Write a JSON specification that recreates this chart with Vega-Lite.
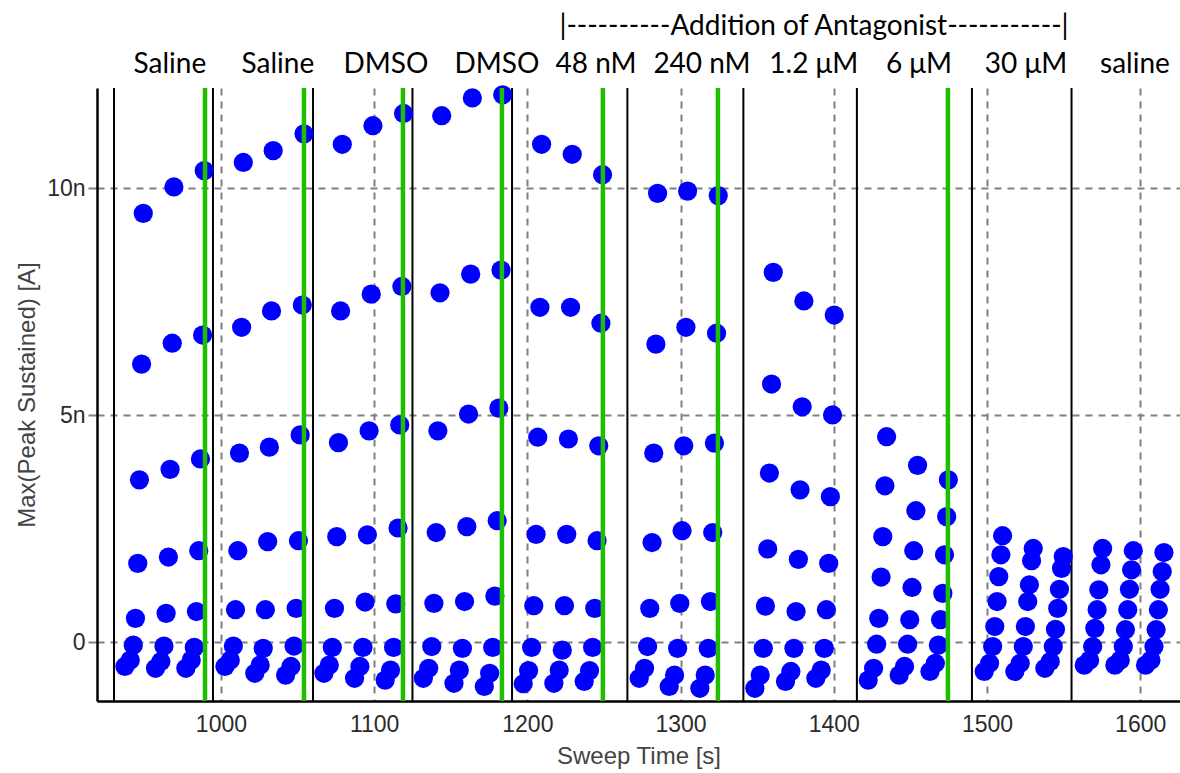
{
  "$schema": "https://vega.github.io/schema/vega-lite/v6.json",
  "width": 1083,
  "height": 613,
  "autosize": {"type": "none"},
  "padding": {"left": 97, "top": 88, "right": 0, "bottom": 72},
  "background": "white",
  "config": {
    "view": {"stroke": null},
    "axis": {
      "labelFont": "Liberation Sans",
      "labelFontSize": 23,
      "labelColor": "#2b2b2b",
      "titleFont": "Liberation Sans",
      "titleFontSize": 24,
      "titleFontWeight": "normal",
      "titleColor": "#444444",
      "domainColor": "#000000",
      "domainWidth": 2.5,
      "gridColor": "#808080",
      "gridDash": [7, 6],
      "gridWidth": 2,
      "gridOpacity": 1
    },
    "axisX": {"ticks": false, "tickSize": 0, "labelPadding": 12, "titlePadding": 8},
    "axisY": {"tickColor": "#808080", "tickSize": 9, "tickWidth": 2, "labelPadding": 3, "titlePadding": 7}
  },
  "datasets": {
    "dots": [
      {"t":949.3,"v":9.45},{"t":948.2,"v":6.13},{"t":946.8,"v":3.58},{"t":945.7,"v":1.74},{"t":944.2,"v":0.53},{"t":942.8,"v":-0.06},{"t":940.8,"v":-0.39},{"t":937.3,"v":-0.53},
      {"t":969.3,"v":10.03},{"t":968.2,"v":6.59},{"t":966.8,"v":3.81},{"t":965.7,"v":1.88},{"t":964.2,"v":0.64},{"t":962.8,"v":-0.08},{"t":960.8,"v":-0.42},{"t":957.3,"v":-0.57},
      {"t":989.1,"v":10.39},{"t":988.0,"v":6.77},{"t":986.6,"v":4.04},{"t":985.5,"v":2.02},{"t":984.0,"v":0.68},{"t":982.6,"v":-0.11},{"t":980.6,"v":-0.39},{"t":977.1,"v":-0.57},
      {"t":1014.6,"v":10.57},{"t":1013.5,"v":6.94},{"t":1012.1,"v":4.17},{"t":1011.0,"v":2.02},{"t":1009.5,"v":0.72},{"t":1008.1,"v":-0.08},{"t":1006.1,"v":-0.39},{"t":1002.6,"v":-0.53},
      {"t":1034.1,"v":10.83},{"t":1033.0,"v":7.30},{"t":1031.6,"v":4.30},{"t":1030.5,"v":2.22},{"t":1029.0,"v":0.72},{"t":1027.6,"v":-0.13},{"t":1025.6,"v":-0.50},{"t":1022.1,"v":-0.68},
      {"t":1054.2,"v":11.20},{"t":1053.1,"v":7.43},{"t":1051.7,"v":4.57},{"t":1050.6,"v":2.24},{"t":1049.1,"v":0.75},{"t":1047.7,"v":-0.08},{"t":1045.7,"v":-0.53},{"t":1042.2,"v":-0.72},
      {"t":1079.2,"v":10.97},{"t":1078.1,"v":7.30},{"t":1076.7,"v":4.40},{"t":1075.6,"v":2.33},{"t":1074.1,"v":0.75},{"t":1072.7,"v":-0.11},{"t":1070.7,"v":-0.50},{"t":1067.2,"v":-0.68},
      {"t":1099.2,"v":11.38},{"t":1098.1,"v":7.67},{"t":1096.7,"v":4.66},{"t":1095.6,"v":2.37},{"t":1094.1,"v":0.89},{"t":1092.7,"v":-0.11},{"t":1090.7,"v":-0.53},{"t":1087.2,"v":-0.79},
      {"t":1119.2,"v":11.65},{"t":1118.1,"v":7.84},{"t":1116.7,"v":4.79},{"t":1115.6,"v":2.52},{"t":1114.1,"v":0.85},{"t":1112.7,"v":-0.11},{"t":1110.7,"v":-0.61},{"t":1107.2,"v":-0.83},
      {"t":1144.1,"v":11.60},{"t":1143.0,"v":7.70},{"t":1141.6,"v":4.66},{"t":1140.5,"v":2.42},{"t":1139.0,"v":0.86},{"t":1137.6,"v":-0.09},{"t":1135.6,"v":-0.57},{"t":1132.1,"v":-0.79},
      {"t":1164.1,"v":11.99},{"t":1163.0,"v":8.11},{"t":1161.6,"v":5.03},{"t":1160.5,"v":2.55},{"t":1159.0,"v":0.90},{"t":1157.6,"v":-0.13},{"t":1155.6,"v":-0.61},{"t":1152.1,"v":-0.90},
      {"t":1183.9,"v":12.06},{"t":1182.8,"v":8.20},{"t":1181.4,"v":5.16},{"t":1180.3,"v":2.68},{"t":1178.8,"v":1.02},{"t":1177.4,"v":-0.11},{"t":1175.4,"v":-0.68},{"t":1171.9,"v":-0.97},
      {"t":1209.3,"v":10.97},{"t":1208.2,"v":7.38},{"t":1206.8,"v":4.52},{"t":1205.7,"v":2.38},{"t":1204.2,"v":0.81},{"t":1202.8,"v":-0.11},{"t":1200.8,"v":-0.62},{"t":1197.3,"v":-0.91},
      {"t":1229.3,"v":10.75},{"t":1228.2,"v":7.38},{"t":1226.8,"v":4.48},{"t":1225.7,"v":2.38},{"t":1224.2,"v":0.81},{"t":1222.8,"v":-0.17},{"t":1220.8,"v":-0.61},{"t":1217.3,"v":-0.90},
      {"t":1249.1,"v":10.30},{"t":1248.0,"v":7.03},{"t":1246.6,"v":4.33},{"t":1245.5,"v":2.24},{"t":1244.0,"v":0.75},{"t":1242.6,"v":-0.11},{"t":1240.6,"v":-0.62},{"t":1237.1,"v":-0.86},
      {"t":1285.0,"v":9.89},{"t":1283.9,"v":6.57},{"t":1282.5,"v":4.17},{"t":1281.4,"v":2.20},{"t":1279.9,"v":0.75},{"t":1278.5,"v":-0.09},{"t":1276.5,"v":-0.57},{"t":1273.0,"v":-0.79},
      {"t":1304.6,"v":9.94},{"t":1303.5,"v":6.94},{"t":1302.1,"v":4.33},{"t":1301.0,"v":2.46},{"t":1299.5,"v":0.86},{"t":1298.1,"v":-0.13},{"t":1296.1,"v":-0.72},{"t":1292.6,"v":-0.97},
      {"t":1324.6,"v":9.84},{"t":1323.5,"v":6.81},{"t":1322.1,"v":4.39},{"t":1321.0,"v":2.42},{"t":1319.5,"v":0.90},{"t":1318.1,"v":-0.13},{"t":1316.1,"v":-0.72},{"t":1312.6,"v":-1.01},
      {"t":1360.5,"v":8.15},{"t":1359.4,"v":5.69},{"t":1358.0,"v":3.73},{"t":1356.9,"v":2.06},{"t":1355.4,"v":0.80},{"t":1354.0,"v":-0.13},{"t":1352.0,"v":-0.72},{"t":1348.5,"v":-1.01},
      {"t":1380.5,"v":7.52},{"t":1379.4,"v":5.19},{"t":1378.0,"v":3.36},{"t":1376.9,"v":1.83},{"t":1375.4,"v":0.68},{"t":1374.0,"v":-0.13},{"t":1372.0,"v":-0.64},{"t":1368.5,"v":-0.86},
      {"t":1400.3,"v":7.21},{"t":1399.2,"v":5.01},{"t":1397.8,"v":3.21},{"t":1396.7,"v":1.74},{"t":1395.2,"v":0.72},{"t":1393.8,"v":-0.13},{"t":1391.8,"v":-0.61},{"t":1388.3,"v":-0.79},
      {"t":1434.5,"v":4.53},{"t":1433.4,"v":3.45},{"t":1432.0,"v":2.33},{"t":1430.9,"v":1.44},{"t":1429.4,"v":0.53},{"t":1428.0,"v":-0.04},{"t":1426.0,"v":-0.57},{"t":1422.5,"v":-0.83},
      {"t":1454.7,"v":3.90},{"t":1453.6,"v":2.90},{"t":1452.2,"v":2.02},{"t":1451.1,"v":1.21},{"t":1449.6,"v":0.50},{"t":1448.2,"v":-0.04},{"t":1446.2,"v":-0.53},{"t":1442.7,"v":-0.72},
      {"t":1474.8,"v":3.58},{"t":1473.7,"v":2.77},{"t":1472.3,"v":1.93},{"t":1471.2,"v":1.08},{"t":1469.7,"v":0.50},{"t":1468.3,"v":-0.06},{"t":1466.3,"v":-0.46},{"t":1462.8,"v":-0.64},
      {"t":1510.2,"v":2.35},{"t":1509.1,"v":1.93},{"t":1507.7,"v":1.45},{"t":1506.6,"v":0.90},{"t":1505.1,"v":0.35},{"t":1503.7,"v":-0.09},{"t":1501.7,"v":-0.46},{"t":1498.2,"v":-0.64},
      {"t":1530.2,"v":2.07},{"t":1529.1,"v":1.80},{"t":1527.7,"v":1.27},{"t":1526.6,"v":0.90},{"t":1525.1,"v":0.35},{"t":1523.7,"v":-0.09},{"t":1521.7,"v":-0.46},{"t":1518.2,"v":-0.64},
      {"t":1549.8,"v":1.89},{"t":1548.7,"v":1.63},{"t":1547.3,"v":1.17},{"t":1546.2,"v":0.75},{"t":1544.7,"v":0.29},{"t":1543.3,"v":-0.09},{"t":1541.3,"v":-0.42},{"t":1537.8,"v":-0.57},
      {"t":1575.5,"v":2.07},{"t":1574.4,"v":1.71},{"t":1573.0,"v":1.16},{"t":1571.9,"v":0.72},{"t":1570.4,"v":0.31},{"t":1569.0,"v":-0.09},{"t":1567.0,"v":-0.39},{"t":1563.5,"v":-0.50},
      {"t":1595.5,"v":2.02},{"t":1594.4,"v":1.60},{"t":1593.0,"v":1.17},{"t":1591.9,"v":0.72},{"t":1590.4,"v":0.28},{"t":1589.0,"v":-0.09},{"t":1587.0,"v":-0.39},{"t":1583.5,"v":-0.50},
      {"t":1615.5,"v":1.98},{"t":1614.4,"v":1.56},{"t":1613.0,"v":1.17},{"t":1611.9,"v":0.72},{"t":1610.4,"v":0.28},{"t":1609.0,"v":-0.09},{"t":1607.0,"v":-0.39},{"t":1603.5,"v":-0.50}
    ],
    "bounds": [
      {"t":930.2},{"t":994.8},{"t":1060.1},{"t":1125.0},{"t":1190.0},{"t":1265.3},{"t":1341.0},{"t":1415.1},{"t":1490.2},{"t":1555.2}
    ],
    "markers": [
      {"t":989.6},{"t":1054.2},{"t":1118.8},{"t":1183.4},{"t":1249.3},{"t":1324.4},{"t":1474.5}
    ],
    "labels": [
      {"t":966.7,"v":12.54,"label":"Saline"},
      {"t":1037.2,"v":12.54,"label":"Saline"},
      {"t":1107.7,"v":12.54,"label":"DMSO"},
      {"t":1180.2,"v":12.54,"label":"DMSO"},
      {"t":1244.8,"v":12.54,"label":"48 nM"},
      {"t":1314.0,"v":12.54,"label":"240 nM"},
      {"t":1387.0,"v":12.54,"label":"1.2 μM"},
      {"t":1455.6,"v":12.54,"label":"6 μM"},
      {"t":1525.5,"v":12.54,"label":"30 μM"},
      {"t":1596.6,"v":12.54,"label":"saline"},
      {"t":1387.1,"v":13.37,"label":"|----------Addition of Antagonist-----------|"}
    ]
  },
  "layer": [
    {
      "data": {"name": "bounds"},
      "mark": {"type": "rule", "color": "#000000", "strokeWidth": 2},
      "encoding": {
        "x": {"field": "t", "type": "quantitative", "title": "Sweep Time [s]",
              "scale": {"domain": [919.1, 1626], "nice": false, "zero": false},
              "axis": {"values": [1000, 1100, 1200, 1300, 1400, 1500, 1600], "format": "d", "grid": true}}
      }
    },
    {
      "data": {"name": "dots"},
      "mark": {"type": "circle", "size": 370, "color": "#0000ff", "opacity": 1},
      "encoding": {
        "x": {"field": "t", "type": "quantitative", "title": "Sweep Time [s]",
              "scale": {"domain": [919.1, 1626], "nice": false, "zero": false},
              "axis": {"values": [1000, 1100, 1200, 1300, 1400, 1500, 1600], "format": "d", "grid": true}},
        "y": {"field": "v", "type": "quantitative", "title": "Max(Peak Sustained) [A]",
              "scale": {"domain": [-1.29, 12.21], "nice": false, "zero": false},
              "axis": {"values": [0, 5, 10], "grid": true, "labelExpr": "datum.value == 0 ? '0' : datum.value + 'n'"}}
      }
    },
    {
      "data": {"name": "markers"},
      "mark": {"type": "rule", "color": "#1fbf00", "strokeWidth": 4.5},
      "encoding": {
        "x": {"field": "t", "type": "quantitative", "title": "Sweep Time [s]",
              "scale": {"domain": [919.1, 1626], "nice": false, "zero": false}}
      }
    },
    {
      "data": {"name": "labels"},
      "mark": {"type": "text", "font": "Lato", "fontSize": 28, "color": "#000000", "baseline": "alphabetic", "align": "center", "clip": false},
      "encoding": {
        "x": {"field": "t", "type": "quantitative", "title": "Sweep Time [s]",
              "scale": {"domain": [919.1, 1626], "nice": false, "zero": false}},
        "y": {"field": "v", "type": "quantitative", "title": "Max(Peak Sustained) [A]",
              "scale": {"domain": [-1.29, 12.21], "nice": false, "zero": false}},
        "text": {"field": "label"}
      }
    }
  ]
}
